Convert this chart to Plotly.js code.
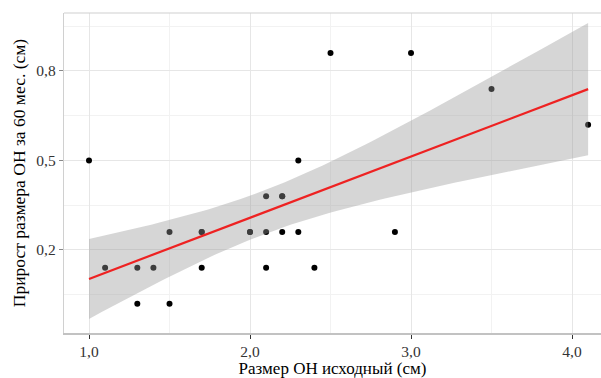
<!DOCTYPE html>
<html>
<head>
<meta charset="utf-8">
<script src="https://cdn.plot.ly/plotly-3.0.1.min.js"></script>
<style>html,body{margin:0;padding:0;background:#fff;}#chart{width:601px;height:378px;}</style>
</head>
<body>
<div id="chart"></div>
<script>
// Data (a few coincident points are hidden under others;
// their presence is inferred from the width of the confidence band)
const sizeInitial = [1.0, 1.1, 1.3, 1.3, 1.4, 1.5, 1.5, 1.7, 1.7, 1.7, 2.0, 2.0, 2.1, 2.1, 2.1, 2.2, 2.2, 2.2, 2.3, 2.3, 2.4, 2.5, 2.9, 3.0, 3.5, 4.1];
const growth60 =    [0.5, 0.2, 0.2, 0.1, 0.2, 0.3, 0.1, 0.3, 0.3, 0.2, 0.3, 0.3, 0.4, 0.3, 0.2, 0.4, 0.4, 0.3, 0.3, 0.5, 0.2, 0.8, 0.3, 0.8, 0.7, 0.6];
const xTickVals = [1, 2, 3, 4];
const xTickText = ["1,0", "2,0", "3,0", "4,0"];
const yTickVals = [0.25, 0.5, 0.75];
const yTickText = ["0,2", "0,5", "0,8"];

// Linear model fit (lm) with 95% confidence band, as geom_smooth does
const n = sizeInitial.length;
const mx = sizeInitial.reduce((a, b) => a + b, 0) / n;
const my = growth60.reduce((a, b) => a + b, 0) / n;
let sxx = 0, sxy = 0;
for (let i = 0; i < n; i++) { sxx += (sizeInitial[i] - mx) ** 2; sxy += (sizeInitial[i] - mx) * (growth60[i] - my); }
const slope = sxy / sxx, intercept = my - slope * mx;
let sse = 0;
for (let i = 0; i < n; i++) { sse += (growth60[i] - intercept - slope * sizeInitial[i]) ** 2; }
const s = Math.sqrt(sse / (n - 2));
const tq = 2.064; // t(0.975, df=24)
const xmin = Math.min(...sizeInitial), xmax = Math.max(...sizeInitial);
const gx = [], gy = [], lo = [], hi = [];
for (let k = 0; k < 80; k++) {
  const x0 = xmin + (xmax - xmin) * k / 79;
  const f = intercept + slope * x0;
  const se = s * Math.sqrt(1 / n + (x0 - mx) ** 2 / sxx);
  gx.push(x0); gy.push(f); lo.push(f - tq * se); hi.push(f + tq * se);
}

const traces = [
  { x: sizeInitial, y: growth60, type: 'scatter', mode: 'markers',
    marker: { color: '#000', size: 6 }, hoverinfo: 'x+y' },
  { x: gx.concat(gx.slice().reverse()), y: hi.concat(lo.slice().reverse()),
    type: 'scatter', mode: 'lines', fill: 'toself', fillcolor: 'rgba(153,153,153,0.4)',
    line: { width: 0 }, hoverinfo: 'skip' },
  { x: gx, y: gy, type: 'scatter', mode: 'lines', line: { color: '#ee2222', width: 2.2 }, hoverinfo: 'skip' }
];

const layout = {
  width: 601, height: 378,
  margin: { l: 64, r: 0, t: 13, b: 45 },
  paper_bgcolor: '#fff', plot_bgcolor: '#fff',
  showlegend: false,
  font: { family: '"Liberation Serif", "DejaVu Serif", serif', size: 15.5, color: '#000' },
  xaxis: {
    range: [0.8447, 4.18], tickmode: 'array', tickvals: xTickVals, ticktext: xTickText,
    showgrid: true, gridcolor: '#e6e6e6', gridwidth: 1, zeroline: false,
    minor: { tickvals: [1.5, 2.5, 3.5], showgrid: true, gridcolor: '#f2f2f2', gridwidth: 1, ticks: '' },
    showline: true, linecolor: '#c2c2c2', linewidth: 1.6,
    ticks: 'outside', ticklen: 4, tickcolor: '#333', tickwidth: 1,
    tickfont: { size: 15.5, color: '#333' },
    title: { text: 'Размер ОН исходный (см)', font: { size: 17, color: '#000' }, standoff: 7 }
  },
  yaxis: {
    range: [0.018, 0.912], tickmode: 'array', tickvals: yTickVals, ticktext: yTickText,
    showgrid: true, gridcolor: '#e6e6e6', gridwidth: 1, zeroline: false,
    minor: { tickvals: [0.125, 0.375, 0.625, 0.875], showgrid: true, gridcolor: '#f2f2f2', gridwidth: 1, ticks: '' },
    showline: true, linecolor: '#d0d0d0', linewidth: 1.2,
    ticks: 'outside', ticklen: 4, tickcolor: '#888', tickwidth: 1,
    tickfont: { size: 15.5, color: '#333' },
    title: { text: 'Прирост размера ОН за 60 мес. (см)', font: { size: 17.5, color: '#000' }, standoff: 6 }
  },
  shapes: [
    { type: 'line', xref: 'paper', yref: 'paper', x0: 0, x1: 1, y0: 1, y1: 1, line: { color: '#d0d0d0', width: 1.2 } }
  ]
};

Plotly.newPlot('chart', traces, layout, { displayModeBar: false, staticPlot: true });
</script>
</body>
</html>
